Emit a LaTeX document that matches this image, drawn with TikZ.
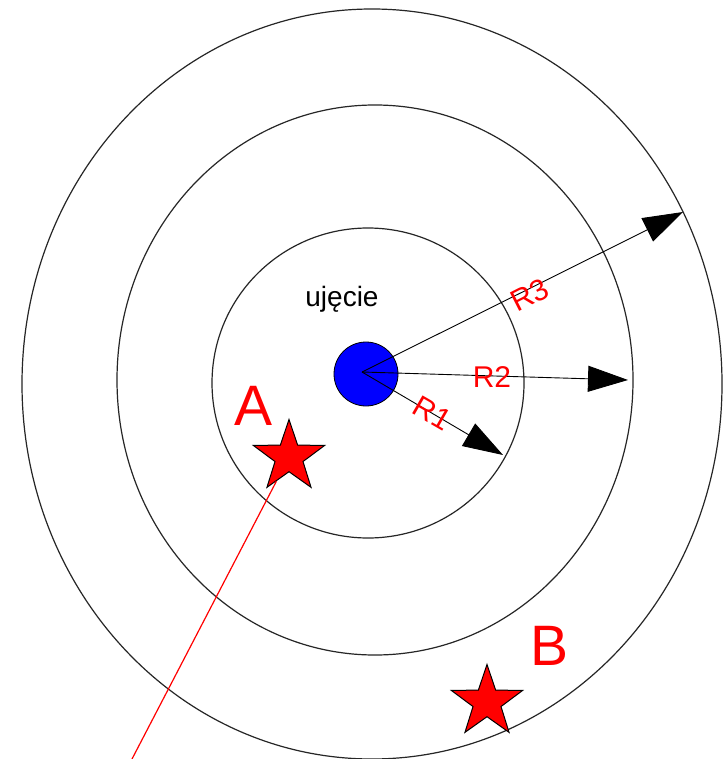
\documentclass[tikz,border=0pt]{standalone}
\usepackage{fontspec}
\setmainfont{Liberation Sans}
\usetikzlibrary{arrows.meta,shapes.geometric}

\tikzset{
  ring/.style={black!85, line width=1.2pt},
  radius arrow/.style={black, line width=0.9pt, -{Triangle[length=40pt,width=26pt]}},
  rlabel/.style={text=red, font=\fontsize{30}{30}\selectfont, inner sep=0pt},
  spot/.style={star, star points=5, star point ratio=2.55, minimum size=75pt,
    inner sep=0pt, fill=red, draw=black, line width=1pt},
  spotlabel/.style={text=red, font=\fontsize{57}{57}\selectfont, inner sep=0pt},
}

\begin{document}
\begin{tikzpicture}[x=1pt,y=-1pt]
\useasboundingbox (0,0) rectangle (723,759);
\fill[white] (0,0) rectangle (723,759);

% Rings, inner to outer
\foreach \cx/\cy/\rx/\ry in {368/383/156/155, 375/380/258/275, 372/384/350/375} {
  \draw[ring] (\cx,\cy) ellipse [x radius=\rx, y radius=\ry];
}

% Shot point in the middle
\node[circle, fill=blue, draw=black, line width=0.8pt, minimum size=64pt, inner sep=0pt] (core) at (366,374) {};
\node[font=\fontsize{28}{28}\selectfont] (shot) at (342,299) {ujęcie};

% Radii R1, R2, R3
\coordinate (hub) at (362,372);
\coordinate (tip1) at (503,455);
\coordinate (tip2) at (628,380);
\coordinate (tip3) at (683,212);
\draw[radius arrow] (hub) -- (tip1);
\draw[radius arrow] (hub) -- (tip2);
\draw[radius arrow] (hub) -- (tip3);
\node[rlabel, rotate=-30] (r1) at (432,413) {R1};
\node[rlabel] (r2) at (492,377) {R2};
\node[rlabel, rotate=27] (r3) at (530,295) {R3};

% Points A and B
\node[spot] (starA) at (289,457) {};
\node[spot] (starB) at (487,702) {};
\node[spotlabel] (labA) at (254,406) {A};
\node[spotlabel] (labB) at (549,646) {B};

% Line leaving A
\coordinate (tail) at (132,759);
\draw[red, line width=1.2pt] (starA) -- (tail);

\end{tikzpicture}
\end{document}
